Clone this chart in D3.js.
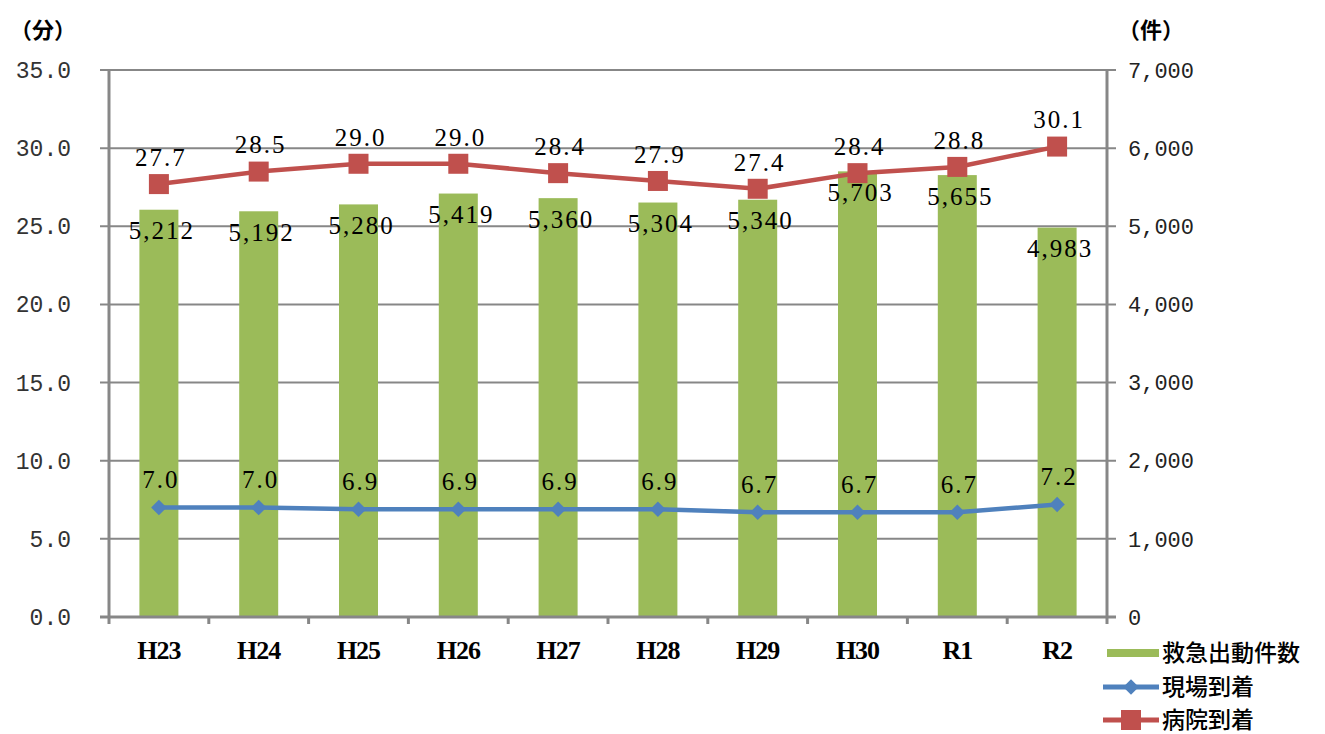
<!DOCTYPE html>
<html>
<head>
<meta charset="utf-8">
<title>救急出動件数</title>
<script src="https://cdn.jsdelivr.net/npm/d3@7/dist/d3.min.js"></script>
<style>
  body { margin: 0; background: #fff; }
  .grid line { stroke: #878787; stroke-width: 2; }
  .tick-l text { font-family: "Liberation Mono", monospace; font-size: 23px; fill: #333; }
  .tick-r text { font-family: "Liberation Mono", monospace; font-size: 22px; fill: #222; }
  .dlabel { font-family: "Liberation Serif", serif; font-size: 25px; letter-spacing: 2px; fill: #000; }
  .cat { font-family: "Liberation Serif", serif; font-weight: bold; font-size: 26px; letter-spacing: -1px; fill: #000; }
  .cjk { font-family: "Noto Sans CJK JP", sans-serif; fill: #000; }
</style>
</head>
<body>
<div class="container"></div>
<script>
// data
var years = ["H23", "H24", "H25", "H26", "H27", "H28", "H29", "H30", "R1", "R2"];
var dispatches = [5212, 5192, 5280, 5419, 5360, 5304, 5340, 5703, 5655, 4983];   // 救急出動件数
var onScene = [7.0, 7.0, 6.9, 6.9, 6.9, 6.9, 6.7, 6.7, 6.7, 7.2];                // 現場到着
var toHospital = [27.7, 28.5, 29.0, 29.0, 28.4, 27.9, 27.4, 28.4, 28.8, 30.1];   // 病院到着
var leftTicks = [0, 5, 10, 15, 20, 25, 30, 35];
var rightTicks = [0, 1000, 2000, 3000, 4000, 5000, 6000, 7000];

var green = "#9BBB59", blue = "#4F81BD", red = "#C0504D", gray = "#878787";

var W = 1325, H = 734;
var pLeft = 109, pRight = 1107, pTop = 70, pBottom = 617;

var svg = d3.select(".container").append("svg")
  .attr("width", W).attr("height", H);

var x = d3.scaleBand().domain(years).range([pLeft, pRight]);
var yL = d3.scaleLinear().domain([0, 35]).range([pBottom, pTop]);
var yR = d3.scaleLinear().domain([0, 7000]).range([pBottom, pTop]);

// gridlines
svg.append("g").attr("class", "grid")
  .selectAll("line").data(leftTicks).enter().append("line")
  .attr("x1", pLeft - 9).attr("x2", pRight + 9)
  .attr("y1", d => yL(d)).attr("y2", d => yL(d));

// left axis labels
svg.append("g").attr("class", "tick-l")
  .selectAll("text").data(leftTicks).enter().append("text")
  .attr("x", 71).attr("y", d => yL(d)).attr("dy", "0.35em")
  .attr("text-anchor", "end")
  .text(d => d3.format(".1f")(d));

// right axis labels
svg.append("g").attr("class", "tick-r")
  .selectAll("text").data(rightTicks).enter().append("text")
  .attr("x", 1128).attr("y", d => yR(d)).attr("dy", "0.35em")
  .attr("text-anchor", "start")
  .text(d => d3.format(",")(d));

// unit labels
svg.append("text").attr("class", "cjk").attr("x", 10).attr("y", 30).attr("dy", "0.35em")
  .attr("font-size", 22).attr("font-weight", "bold").text("（分）");
svg.append("text").attr("class", "cjk").attr("x", 1118).attr("y", 30).attr("dy", "0.35em")
  .attr("font-size", 22).attr("font-weight", "bold").text("（件）");

// bars
svg.append("g").selectAll("rect").data(dispatches).enter().append("rect")
  .attr("x", (d, i) => x(years[i]) + x.bandwidth() / 2 - 19.5)
  .attr("width", 39)
  .attr("y", d => yR(d))
  .attr("height", d => pBottom - yR(d))
  .attr("fill", green);

// axes lines
svg.append("line").attr("x1", pLeft).attr("x2", pLeft).attr("y1", pTop).attr("y2", pBottom)
  .attr("stroke", gray).attr("stroke-width", 3);
svg.append("line").attr("x1", pRight).attr("x2", pRight).attr("y1", pTop).attr("y2", pBottom)
  .attr("stroke", gray).attr("stroke-width", 3);
svg.append("line").attr("x1", pLeft - 9).attr("x2", pRight + 9).attr("y1", pBottom).attr("y2", pBottom)
  .attr("stroke", gray).attr("stroke-width", 3);
// x ticks at band edges
svg.append("g").selectAll("line").data(years.concat([null])).enter().append("line")
  .attr("x1", (d, i) => pLeft + i * x.bandwidth())
  .attr("x2", (d, i) => pLeft + i * x.bandwidth())
  .attr("y1", pBottom).attr("y2", pBottom + 7)
  .attr("stroke", gray).attr("stroke-width", 3);

// category labels
svg.append("g").selectAll("text").data(years).enter().append("text")
  .attr("class", "cat")
  .attr("x", d => x(d) + x.bandwidth() / 2)
  .attr("y", 650).attr("dy", "0.35em")
  .attr("text-anchor", "middle")
  .text(d => d);

// lines
var cx = (d, i) => x(years[i]) + x.bandwidth() / 2;
var lineL = d3.line().x(cx).y(d => yL(d));

svg.append("path").attr("d", lineL(onScene))
  .attr("fill", "none").attr("stroke", blue).attr("stroke-width", 4.5);
svg.append("path").attr("d", lineL(toHospital))
  .attr("fill", "none").attr("stroke", red).attr("stroke-width", 4.5);

var diamond = d3.symbol().type(d3.symbolSquare).size(120);
svg.append("g").selectAll("path").data(onScene).enter().append("path")
  .attr("d", diamond)
  .attr("transform", (d, i) => `translate(${cx(d, i)},${yL(d)}) rotate(45)`)
  .attr("fill", blue);

svg.append("g").selectAll("rect").data(toHospital).enter().append("rect")
  .attr("x", (d, i) => cx(d, i) - 10).attr("y", d => yL(d) - 10)
  .attr("width", 20).attr("height", 20)
  .attr("fill", red);

// data labels
svg.append("g").selectAll("text").data(dispatches).enter().append("text")
  .attr("class", "dlabel")
  .attr("x", (d, i) => cx(d, i) + 3).attr("y", d => yR(d) + 21).attr("dy", "0.35em")
  .attr("text-anchor", "middle")
  .text(d => d3.format(",")(d));

svg.append("g").selectAll("text").data(onScene).enter().append("text")
  .attr("class", "dlabel")
  .attr("x", (d, i) => cx(d, i) + 2).attr("y", d => yL(d) - 28).attr("dy", "0.35em")
  .attr("text-anchor", "middle")
  .text(d => d3.format(".1f")(d));

svg.append("g").selectAll("text").data(toHospital).enter().append("text")
  .attr("class", "dlabel")
  .attr("x", (d, i) => cx(d, i) + 2).attr("y", d => yL(d) - 27).attr("dy", "0.35em")
  .attr("text-anchor", "middle")
  .text(d => d3.format(".1f")(d));

// legend
var lg = svg.append("g");
lg.append("rect").attr("x", 1107).attr("y", 649).attr("width", 52).attr("height", 8).attr("fill", green);
lg.append("text").attr("class", "cjk").attr("x", 1162).attr("y", 653).attr("dy", "0.35em")
  .attr("font-size", 23).attr("font-weight", 500).text("救急出動件数");

lg.append("line").attr("x1", 1103).attr("x2", 1159).attr("y1", 687).attr("y2", 687)
  .attr("stroke", blue).attr("stroke-width", 5);
lg.append("path").attr("d", diamond).attr("transform", "translate(1131,687) rotate(45)").attr("fill", blue);
lg.append("text").attr("class", "cjk").attr("x", 1162).attr("y", 687).attr("dy", "0.35em")
  .attr("font-size", 23).attr("font-weight", 500).text("現場到着");

lg.append("line").attr("x1", 1103).attr("x2", 1159).attr("y1", 720).attr("y2", 720)
  .attr("stroke", red).attr("stroke-width", 5);
lg.append("rect").attr("x", 1121).attr("y", 710).attr("width", 20).attr("height", 20).attr("fill", red);
lg.append("text").attr("class", "cjk").attr("x", 1162).attr("y", 720).attr("dy", "0.35em")
  .attr("font-size", 23).attr("font-weight", 500).text("病院到着");
</script>
</body>
</html>
